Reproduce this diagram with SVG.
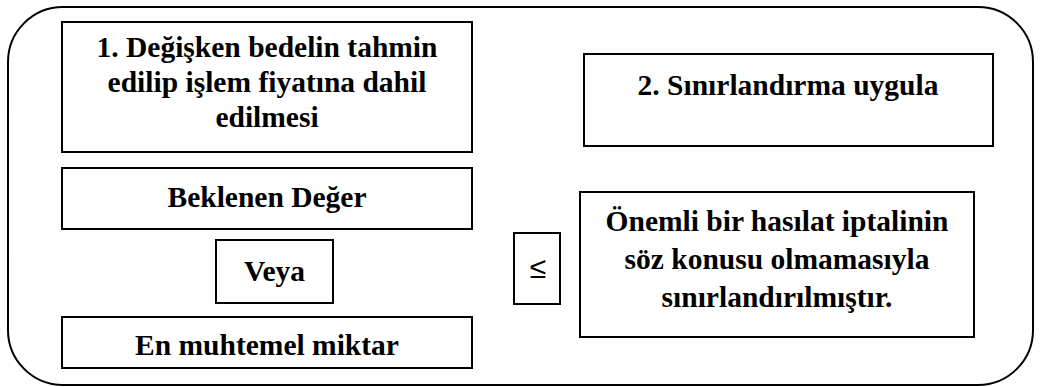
<svg xmlns="http://www.w3.org/2000/svg" width="1063" height="387" viewBox="0 0 1063 387">
  <style>
    .frame { fill: none; stroke: #000; stroke-width: 2; }
    .box { fill: #fff; stroke: #000; stroke-width: 2; }
  </style>
  <rect width="1063" height="387" fill="#fff"/>
  <!-- outer rounded frame -->
  <rect class="frame" x="8" y="7" width="1025" height="378" rx="55" ry="55"/>

  <g id="node-step1">
    <rect class="box" x="62" y="22" width="410" height="130"/>
    <text x="267" y="57" font-family="Liberation Serif" font-weight="bold" font-size="29.5" text-anchor="middle">1. Değişken bedelin tahmin</text>
    <text x="267" y="92" font-family="Liberation Serif" font-weight="bold" font-size="29.5" text-anchor="middle">edilip işlem fiyatına dahil</text>
    <text x="267" y="127" font-family="Liberation Serif" font-weight="bold" font-size="29.5" text-anchor="middle">edilmesi</text>
  </g>
  <g id="node-step2">
    <rect class="box" x="584" y="54" width="409" height="92"/>
    <text x="788" y="95" font-family="Liberation Serif" font-weight="bold" font-size="29.5" text-anchor="middle">2. Sınırlandırma uygula</text>
  </g>
  <g id="node-expected">
    <rect class="box" x="62" y="168" width="410" height="61"/>
    <text x="267" y="207" font-family="Liberation Serif" font-weight="bold" font-size="29.5" text-anchor="middle">Beklenen Değer</text>
  </g>
  <g id="node-or">
    <rect class="box" x="216" y="240" width="117" height="63"/>
    <text x="274.5" y="281" font-family="Liberation Serif" font-weight="bold" font-size="29.5" text-anchor="middle">Veya</text>
  </g>
  <g id="node-likely">
    <rect class="box" x="62" y="317" width="410" height="51"/>
    <text x="267" y="355" font-family="Liberation Serif" font-weight="bold" font-size="29.5" text-anchor="middle">En muhtemel miktar</text>
  </g>
  <g id="node-limit">
    <rect class="box" x="580" y="192" width="394" height="145"/>
    <text x="777" y="231" font-family="Liberation Serif" font-weight="bold" font-size="29.5" text-anchor="middle">Önemli bir hasılat iptalinin</text>
    <text x="777" y="269" font-family="Liberation Serif" font-weight="bold" font-size="29.5" text-anchor="middle">söz konusu olmamasıyla</text>
    <text x="777" y="307" font-family="Liberation Serif" font-weight="bold" font-size="29.5" text-anchor="middle">sınırlandırılmıştır.</text>
  </g>
  <g id="node-leq">
    <rect class="box" x="514" y="233" width="46" height="71"/>
    <text x="538" y="278" font-family="Liberation Sans" font-size="30" text-anchor="middle">≤</text>
  </g>
  <g id="connectors"></g>
</svg>
